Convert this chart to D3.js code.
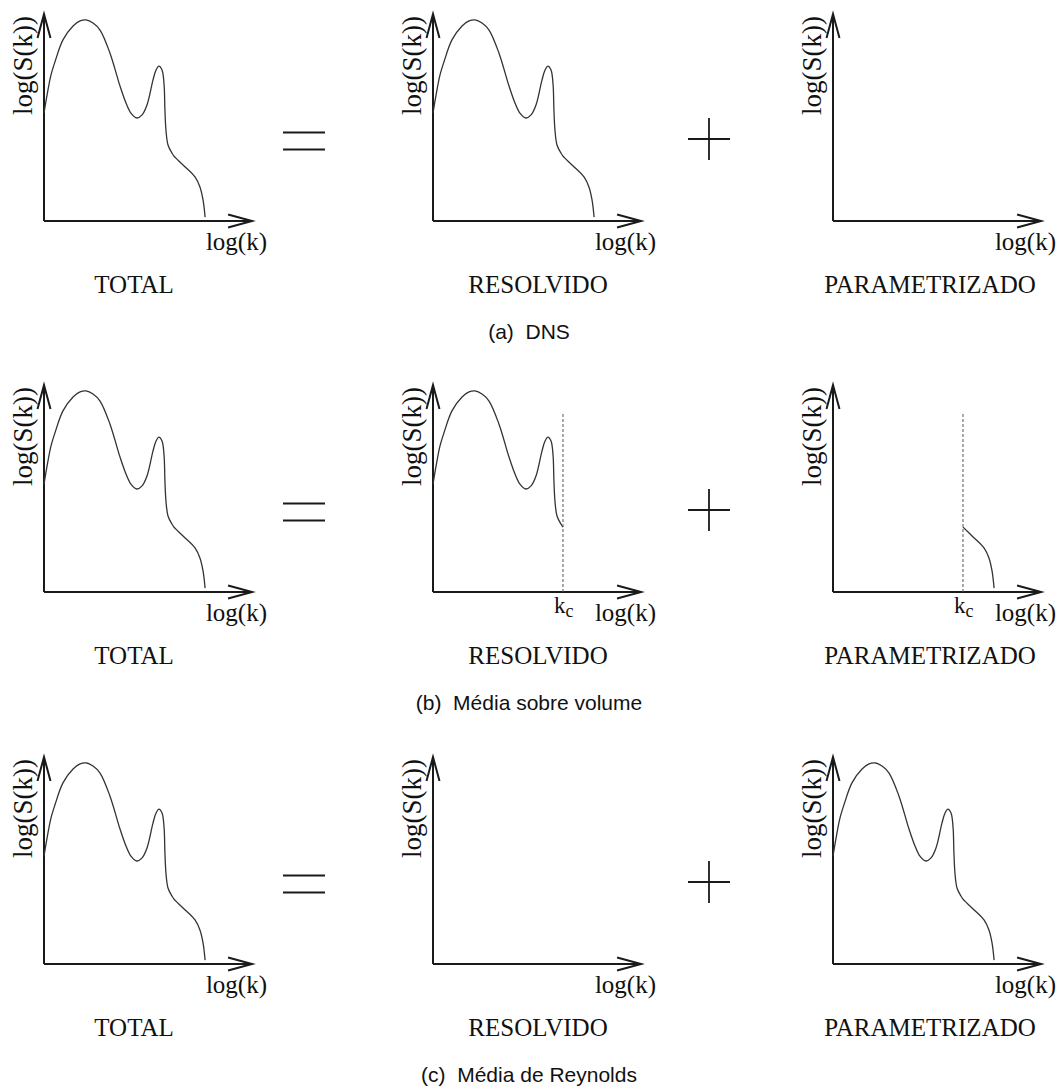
<!DOCTYPE html>
<html>
<head>
<meta charset="utf-8">
<script src="https://cdn.jsdelivr.net/npm/d3@7"></script>
<style>
  html, body { margin: 0; padding: 0; background: #fff; }
  svg { display: block; }
  .serif { font-family: "Liberation Serif", "Times New Roman", serif; fill: #111; }
  .sans { font-family: "Liberation Sans", Arial, sans-serif; fill: #111; white-space: pre; }
</style>
</head>
<body>
<script>
// ---- data ----
const logk = [0, 0.15, 0.34, 0.53, 0.92, 1.41, 1.75, 2.04, 2.38, 2.72, 3.20, 3.69, 3.98, 4.22, 4.51, 4.76, 5.00, 5.29, 5.44, 5.58, 5.73, 5.83, 5.87, 5.92, 6.02, 6.21, 6.31, 6.75, 7.33, 7.57, 7.72, 7.82];
const logS = [5.24, 6.12, 7.09, 7.72, 8.79, 9.47, 9.71, 9.76, 9.61, 9.27, 8.16, 6.55, 5.73, 5.24, 5.00, 5.15, 5.63, 6.84, 7.33, 7.52, 7.33, 6.60, 5.39, 4.42, 3.69, 3.30, 3.15, 2.72, 2.14, 1.65, 1.02, 0.19];
const kc = 6.31;           // cutoff wavenumber
const kcLineTop = 8.74;    // top of dashed cutoff line
const columnLabels = ["TOTAL", "RESOLVIDO", "PARAMETRIZADO"];
const captions = ["(a)  DNS", "(b)  Média sobre volume", "(c)  Média de Reynolds"];
const xLabel = "log(k)";
const yLabel = "log(S(k))";
// what each panel shows: "full", "resolved", "param", "none"
const panelContent = [
  ["full", "full", "none"],
  ["full", "resolved", "param"],
  ["full", "none", "full"]
];

// ---- layout ----
const W = 1058, H = 1091;
const colX = [44, 433, 833];       // y-axis position of each column
const rowY = [221, 592, 964];      // x-axis position of each row
const labelCenter = [90, 105, 97];  // local x center of column labels
const axisLen = 206;

const svg = d3.select("body").append("svg").attr("width", W).attr("height", H);

const x = d3.scaleLinear().domain([0, 10]).range([0, axisLen]);
const y = d3.scaleLinear().domain([0, 10]).range([0, -axisLen]);

const pts = logk.map((k, i) => ({k, s: logS[i]}));
const line = d3.line().x(d => x(d.k)).y(d => y(d.s)).curve(d3.curveCatmullRom.alpha(0.5));

panelContent.forEach((row, r) => {
  row.forEach((content, c) => {
    const g = svg.append("g").attr("transform", `translate(${colX[c]},${rowY[r]})`);
    // axes
    const ax = g.append("g").attr("stroke", "#1a1a1a").attr("stroke-width", 2).attr("fill", "none");
    ax.append("line").attr("x1", x(0)).attr("y1", 0).attr("x2", x(10.1)).attr("y2", 0);
    ax.append("line").attr("x1", 0).attr("y1", y(0)).attr("x2", 0).attr("y2", y(10.05));
    ax.append("path").attr("d", `M${x(10.1) - 24},-6.5 L${x(10.1)},0 L${x(10.1) - 24},6.5`);
    ax.append("path").attr("d", `M-6.5,${y(10.05) + 24} L0,${y(10.05)} L6.5,${y(10.05) + 24}`);

    // curve
    let data = null;
    if (content === "full") data = pts;
    if (content === "resolved") data = pts.filter(d => d.k <= kc);
    if (content === "param") data = pts.filter(d => d.k >= kc);
    if (data) {
      g.append("path").attr("d", line(data)).attr("fill", "none")
        .attr("stroke", "#333").attr("stroke-width", 1.3);
    }
    if (content === "resolved" || content === "param") {
      g.append("line").attr("x1", x(kc)).attr("x2", x(kc)).attr("y1", 0).attr("y2", y(kcLineTop))
        .attr("stroke", "#555").attr("stroke-width", 1).attr("stroke-dasharray", "3,2");
      const t = g.append("text").attr("class", "serif").attr("x", x(kc) - 9).attr("y", 21)
        .attr("font-size", 23);
      t.append("tspan").text("k");
      t.append("tspan").attr("font-size", 18).attr("dy", 4).text("c");
    }

    // axis labels
    g.append("text").attr("class", "serif").attr("font-size", 25)
      .attr("text-anchor", "end").attr("x", 223).attr("y", 29).text(xLabel);
    g.append("text").attr("class", "serif").attr("font-size", 27)
      .attr("transform", `translate(-12.5,-106) rotate(-90)`).attr("text-anchor", "start").text(yLabel);

    // column label
    g.append("text").attr("class", "serif").attr("font-size", 25)
      .attr("text-anchor", "middle").attr("x", labelCenter[c]).attr("y", 72).text(columnLabels[c]);
  });

  // operators
  const cy = rowY[r] - 80;
  const op = svg.append("g").attr("stroke", "#1a1a1a").attr("stroke-width", 1.8);
  op.append("line").attr("x1", 283).attr("x2", 325).attr("y1", cy - 8.5).attr("y2", cy - 8.5);
  op.append("line").attr("x1", 283).attr("x2", 325).attr("y1", cy + 8.5).attr("y2", cy + 8.5);
  op.append("line").attr("x1", 688).attr("x2", 730).attr("y1", cy - 2).attr("y2", cy - 2);
  op.append("line").attr("x1", 709).attr("x2", 709).attr("y1", cy - 23).attr("y2", cy + 19);

  // caption
  svg.append("text").attr("class", "sans").attr("font-size", 21)
    .attr("text-anchor", "middle").attr("x", 529).attr("y", rowY[r] + 118).text(captions[r]);
});
</script>
</body>
</html>
